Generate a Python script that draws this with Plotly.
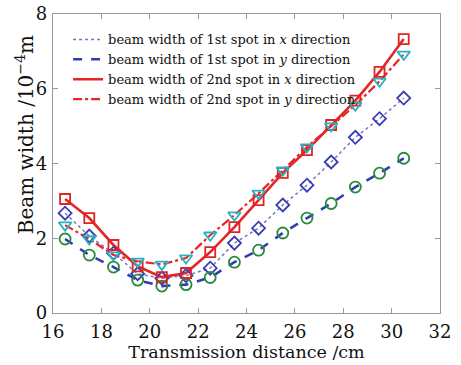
import plotly.graph_objects as go

x = [16.5, 17.5, 18.5, 19.5, 20.5, 21.5, 22.5, 23.5, 24.5, 25.5, 26.5, 27.5, 28.5, 29.5, 30.5]
spot1_x = [2.67, 2.06, 1.60, 1.05, 0.93, 1.00, 1.20, 1.87, 2.27, 2.89, 3.42, 4.04, 4.70, 5.20, 5.75]
spot1_y = [1.98, 1.55, 1.23, 0.88, 0.72, 0.76, 0.95, 1.36, 1.68, 2.14, 2.54, 2.93, 3.37, 3.74, 4.14]
spot2_x = [3.05, 2.54, 1.82, 1.25, 0.96, 1.07, 1.63, 2.30, 3.02, 3.75, 4.36, 5.03, 5.68, 6.45, 7.33]
spot2_y = [2.35, 1.98, 1.55, 1.38, 1.30, 1.47, 2.08, 2.62, 3.20, 3.82, 4.44, 5.00, 5.56, 6.20, 6.92]

names = [
    "beam width of 1st spot in <i>x</i> direction",
    "beam width of 1st spot in <i>y</i> direction",
    "beam width of 2nd spot in <i>x</i> direction",
    "beam width of 2nd spot in <i>y</i> direction",
]
x_title = "Transmission distance /cm"
y_title = "Beam width /10<sup>−4</sup>m"

series = [spot1_x, spot1_y, spot2_x, spot2_y]
line_colors = ["#7078bc", "#2f3db4", "#e32626", "#e32626"]
dashes = ["dot", "dash", "solid", "dashdot"]
widths = [1.5, 2.6, 2.6, 2.2]
marker_colors = ["#3a3db0", "#2a8a3c", "#e02424", "#26b4c4"]
symbols = ["diamond-open", "circle-open", "square-open", "triangle-down-open"]
msizes = [10, 11, 10, 11]

FONT = "DejaVu Serif"

fig = go.Figure()
for s, n, c, d, w in zip(series, names, line_colors, dashes, widths):
    fig.add_trace(go.Scatter(x=x, y=s, mode="lines", name=n,
                             line=dict(color=c, dash=d, width=w)))
for s, mc, sym, ms in zip(series, marker_colors, symbols, msizes):
    fig.add_trace(go.Scatter(x=x, y=s, mode="markers", showlegend=False,
                             marker=dict(symbol=sym, size=ms, color=mc,
                                         line=dict(color=mc, width=1.8))))

axis_common = dict(showgrid=False, zeroline=False, showline=True, linecolor="#999999",
                   linewidth=1.2, mirror="ticks", ticks="inside", ticklen=5,
                   tickcolor="#999999", automargin=False,
                   tickfont=dict(family=FONT, size=18, color="#111"))

fig.update_layout(
    width=461, height=365,
    margin=dict(l=53, r=21, t=14, b=52),
    paper_bgcolor="white", plot_bgcolor="white",
    font=dict(family=FONT, color="#111"),
    xaxis=dict(range=[16, 32], dtick=2, tick0=16, ticklabelstandoff=2,
               title=dict(text=x_title, font=dict(size=17.5), standoff=2),
               **axis_common),
    yaxis=dict(range=[0, 8], dtick=2, tick0=0, ticklabelstandoff=1,
               **axis_common),
    legend=dict(x=0.039, y=0.965, xanchor="left", yanchor="top", bgcolor="rgba(0,0,0,0)",
                font=dict(family=FONT, size=13, color="#111"),
                tracegroupgap=0, itemwidth=30),
    annotations=[dict(text=y_title, textangle=-90, xref="paper", yref="paper",
                      x=-0.072, y=0.595, xanchor="center", yanchor="middle",
                      showarrow=False, font=dict(family=FONT, size=20, color="#111"))],
)

fig.write_html("out.html", config={"displayModeBar": False},
               post_script="document.body.style.margin='0';")
